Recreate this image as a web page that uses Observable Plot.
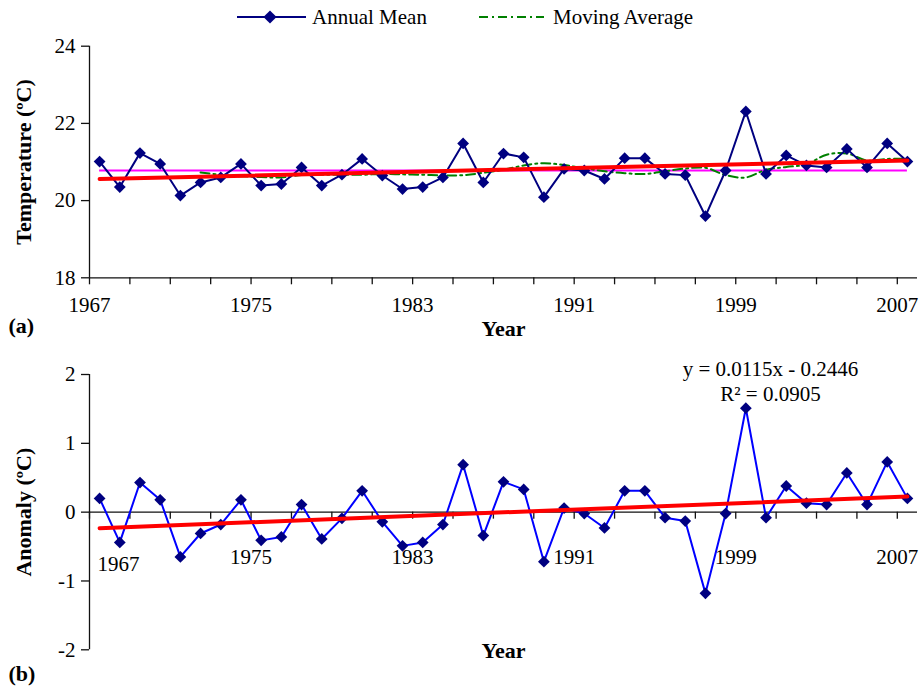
<!DOCTYPE html>
<html><head><meta charset="utf-8">
<script src="https://cdn.jsdelivr.net/npm/d3@7"></script>
<script src="https://cdn.jsdelivr.net/npm/@observablehq/plot@0.6"></script>
<style>
body{margin:0;background:#fff;}
#wrap{position:relative;width:919px;height:688px;overflow:hidden;background:#fff;}
#top{position:absolute;left:0;top:0;}
#bottom{position:absolute;left:0;top:340px;}
#legend{position:absolute;left:0;top:0;}
</style></head><body>
<div id="wrap"><div id="top"></div><div id="bottom"></div><svg id="legend" width="919" height="40"></svg></div>
<script>
// ---- data ----
const years = [1967,1968,1969,1970,1971,1972,1973,1974,1975,1976,1977,1978,1979,1980,1981,1982,1983,1984,1985,1986,1987,1988,1989,1990,1991,1992,1993,1994,1995,1996,1997,1998,1999,2000,2001,2002,2003,2004,2005,2006,2007];
const temperature = [21.01,20.35,21.23,20.95,20.13,20.47,20.60,20.95,20.39,20.43,20.86,20.39,20.67,21.08,20.65,20.30,20.35,20.60,21.48,20.47,21.22,21.12,20.09,20.82,20.78,20.56,21.10,21.10,20.69,20.66,19.60,20.78,22.31,20.69,21.17,20.91,20.86,21.34,20.86,21.48,21.01];
const anomaly = [0.20,-0.44,0.43,0.18,-0.65,-0.31,-0.18,0.18,-0.41,-0.36,0.11,-0.39,-0.09,0.31,-0.14,-0.49,-0.44,-0.18,0.69,-0.34,0.44,0.33,-0.72,0.06,-0.02,-0.23,0.31,0.31,-0.08,-0.13,-1.18,-0.02,1.51,-0.08,0.38,0.13,0.11,0.57,0.11,0.73,0.20];
const maYears = [1972,1973,1974,1975,1976,1977,1978,1979,1980,1981,1982,1983,1984,1985,1986,1987,1988,1989,1990,1991,1992,1993,1994,1995,1996,1997,1998,1999,2000,2001,2002,2003,2004,2005,2006,2007];
const movingAverage = [20.73,20.67,20.63,20.61,20.60,20.66,20.67,20.67,20.67,20.69,20.68,20.67,20.65,20.66,20.72,20.80,20.91,20.97,20.92,20.84,20.76,20.71,20.69,20.76,20.83,20.85,20.66,20.60,20.80,20.87,20.94,21.19,21.22,21.04,21.08,21.08];
const meanTemp = 20.78;
const trendTop = [20.56, 21.04];          // trend line values at first / last year
const slope = 0.0115, intercept = -0.2446, r2 = 0.0905;
const tempTicks = [18, 20, 22, 24];
const anomTicks = [-2, -1, 0, 1, 2];
const xLabels = [1967, 1975, 1983, 1991, 1999, 2007];

// ---- derived tables ----
const FONT = '"Liberation Serif","Times New Roman",Times,serif';
const xDomain = [years[0] - 0.5, years[years.length - 1] + 0.5];
const tickBounds = d3.range(xDomain[0], xDomain[1] - 0.5, 2);
const topData = years.map((y, i) => ({year: y, v: temperature[i]}));
const botData = years.map((y, i) => ({year: y, v: anomaly[i]}));
const maData = maYears.map((y, i) => ({year: y, v: movingAverage[i]}));
const topTrend = [{year: years[0], v: trendTop[0]}, {year: years[years.length - 1], v: trendTop[1]}];
const botTrend = [{year: years[0], v: slope * 1 + intercept}, {year: years[years.length - 1], v: slope * years.length + intercept}];
const fmt = d => String(d);
const NAVY = "#000080";

const style = {fontFamily: FONT, fontSize: "21px", background: "white", overflow: "visible", color: "black"};
const T = {textAnchor: "middle", lineAnchor: "middle"};

const topPlot = Plot.plot({
  width: 919, height: 340,
  marginLeft: 89, marginRight: 2, marginTop: 45.7, marginBottom: 62.7,
  x: {domain: xDomain, axis: null},
  y: {domain: [tempTicks[0], tempTicks[tempTicks.length - 1]], axis: null},
  style,
  marks: [
    Plot.ruleX([xDomain[0]], {stroke: "#111", strokeWidth: 1.3}),
    Plot.ruleY([tempTicks[0]], {stroke: "#111", strokeWidth: 1.3}),
    Plot.ruleX(tickBounds, {x: d => d, y1: tempTicks[0], y2: tempTicks[0], insetBottom: -7, stroke: "#111", strokeWidth: 1.3}),
    Plot.ruleY(tempTicks, {y: d => d, x1: xDomain[0], x2: xDomain[0], insetLeft: -8, stroke: "#111", strokeWidth: 1.3}),
    Plot.text(tempTicks, {x: xDomain[0], y: d => d, text: fmt, textAnchor: "end", lineAnchor: "middle", dx: -14}),
    Plot.text(xLabels, {x: d => d - 0.5, y: tempTicks[0], text: fmt, dy: 27, ...T}),
    Plot.text(["Year"], {text: d => d, frameAnchor: "bottom", dy: 51, fontWeight: "bold", fontSize: 22, ...T}),
    Plot.text(["(a)"], {text: d => d, frameAnchor: "bottom-left", dx: -81, dy: 48, textAnchor: "start", lineAnchor: "middle", fontWeight: "bold", fontSize: 22}),
    Plot.text(["Temperature (ºC)"], {text: d => d, frameAnchor: "left", dx: -66, rotate: -90, fontWeight: "bold", fontSize: 22, ...T}),
    Plot.ruleY([meanTemp], {x1: years[0], x2: years[years.length - 1], stroke: "#ff00ff", strokeWidth: 2}),
    Plot.line(maData, {x: "year", y: "v", stroke: "#008000", strokeWidth: 2, strokeDasharray: "9,4,2,4", curve: "catmull-rom"}),
    Plot.line(topData, {x: "year", y: "v", stroke: NAVY, strokeWidth: 2}),
    Plot.dot(topData, {x: "year", y: "v", symbol: "diamond2", r: 5.3, fill: NAVY, stroke: "none"}),
    Plot.line(topTrend, {x: "year", y: "v", stroke: "#ff0000", strokeWidth: 4})
  ]
});
document.getElementById("top").appendChild(topPlot);

const botPlot = Plot.plot({
  width: 919, height: 348,
  marginLeft: 89, marginRight: 2, marginTop: 34, marginBottom: 38.7,
  x: {domain: xDomain, axis: null},
  y: {domain: [anomTicks[0], anomTicks[anomTicks.length - 1]], axis: null},
  style,
  marks: [
    Plot.ruleX([xDomain[0]], {stroke: "#111", strokeWidth: 1.3}),
    Plot.ruleY([0], {stroke: "#111", strokeWidth: 1.3}),
    Plot.ruleX(tickBounds, {x: d => d, y1: 0, y2: 0, insetBottom: -7, stroke: "#111", strokeWidth: 1.3}),
    Plot.ruleY(anomTicks, {y: d => d, x1: xDomain[0], x2: xDomain[0], insetLeft: -8, stroke: "#111", strokeWidth: 1.3}),
    Plot.text(anomTicks, {x: xDomain[0], y: d => d, text: fmt, textAnchor: "end", lineAnchor: "middle", dx: -14}),
    Plot.text(xLabels.slice(1), {x: d => d - 0.5, y: 0, text: fmt, dy: 45, ...T}),
    Plot.text(xLabels.slice(0, 1), {x: d => d - 0.5, y: 0, text: fmt, dx: 29, dy: 52, ...T}),
    Plot.text(["Year"], {text: d => d, frameAnchor: "bottom", dy: 1, fontWeight: "bold", fontSize: 22, ...T}),
    Plot.text(["(b)"], {text: d => d, frameAnchor: "bottom-left", dx: -81, dy: 24, textAnchor: "start", lineAnchor: "middle", fontWeight: "bold", fontSize: 22}),
    Plot.text(["Anomaly (ºC)"], {text: d => d, frameAnchor: "left", dx: -66, rotate: -90, fontWeight: "bold", fontSize: 22, ...T}),
    Plot.text([`y = ${slope}x - ${Math.abs(intercept)}`], {text: d => d, frameAnchor: "top", dx: 267, dy: -5, ...T}),
    Plot.text([`R² = ${r2}`], {text: d => d, frameAnchor: "top", dx: 267, dy: 20, ...T}),
    Plot.line(botData, {x: "year", y: "v", stroke: "#0000ff", strokeWidth: 2}),
    Plot.dot(botData, {x: "year", y: "v", symbol: "diamond2", r: 5.3, fill: NAVY, stroke: "none"}),
    Plot.line(botTrend, {x: "year", y: "v", stroke: "#ff0000", strokeWidth: 4})
  ]
});
document.getElementById("bottom").appendChild(botPlot);

// ---- legend ----
const lg = d3.select("#legend").style("font-family", FONT).style("font-size", "21px");
lg.append("line").attr("x1", 237).attr("x2", 306).attr("y1", 17).attr("y2", 17).attr("stroke", NAVY).attr("stroke-width", 2);
lg.append("path").attr("d", d3.symbol(d3.symbolDiamond2, 110)()).attr("transform", "translate(270,17)").attr("fill", NAVY);
lg.append("text").attr("x", 312).attr("y", 17).attr("dy", "0.35em").text("Annual Mean");
lg.append("line").attr("x1", 479).attr("x2", 544).attr("y1", 17).attr("y2", 17).attr("stroke", "#008000").attr("stroke-width", 2).attr("stroke-dasharray", "9,4,2,4");
lg.append("text").attr("x", 553).attr("y", 17).attr("dy", "0.35em").text("Moving Average");
</script>
</body></html>
